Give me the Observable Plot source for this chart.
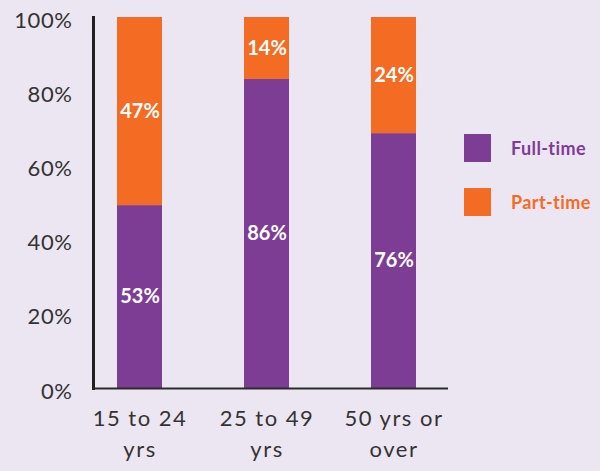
<!DOCTYPE html>
<html>
<head>
<meta charset="utf-8">
<script src="https://cdn.jsdelivr.net/npm/d3@7"></script>
<script src="https://cdn.jsdelivr.net/npm/@observablehq/plot@0.6"></script>
<style>
  html, body { margin: 0; padding: 0; background: #ece6f2; }
  #wrap { position: relative; width: 600px; height: 471px; font-family: Lato, "Open Sans", sans-serif; }
  .leg { position: absolute; left: 464px; display: flex; align-items: center; font-weight: 700; font-size: 18px; letter-spacing: 0.4px; }
  .sw { width: 27px; height: 28px; margin-right: 20px; }
  g[aria-label="x-axis tick label"] text { letter-spacing: 1.5px; }
  g[aria-label="y-axis tick label"] text { letter-spacing: 0.6px; }
</style>
</head>
<body>
<div id="wrap"></div>
<script>
const ages = ["15 to 24\nyrs", "25 to 49\nyrs", "50 yrs or\nover"];
const fullTime = [49.3, 83.3, 68.7];
const partTime = [50.7, 16.7, 31.3];
const fullLabels = ["53%", "86%", "76%"];
const partLabels = ["47%", "14%", "24%"];
const types = ["Full-time", "Part-time"];
const colors = ["#7e3d95", "#f46b24"];
const yTicks = [0, 20, 40, 60, 80, 100];

const rows = [];
ages.forEach((a, i) => {
  rows.push({age: a, type: types[0], value: fullTime[i], label: fullLabels[i]});
  rows.push({age: a, type: types[1], value: partTime[i], label: partLabels[i]});
});

const chart = Plot.plot({
  width: 600,
  height: 471,
  marginTop: 17,
  marginBottom: 83,
  marginLeft: 93,
  marginRight: 152,
  style: {background: "transparent", fontFamily: "Lato, 'Open Sans', sans-serif"},
  x: {domain: ages, range: [75, 457], paddingInner: 0.647, paddingOuter: 0.3235, axis: null},
  y: {domain: [0, 100], axis: null},
  color: {domain: types, range: colors},
  marks: [
    Plot.barY(rows, {x: "age", y: "value", fill: "type"}),
    Plot.text(rows, Plot.stackY({x: "age", y: "value", z: "type", text: "label", fill: "white", fontWeight: 700, fontSize: 20})),
    Plot.axisY({ticks: yTicks, tickFormat: d => d + "%", tickSize: 0, tickPadding: 21, fontSize: 22, fill: "#333", dy: 3, label: null}),
    Plot.axisX({tickSize: 0, tickPadding: 16, fontSize: 22, fill: "#333", lineHeight: 1.4, textAnchor: "middle", label: null}),
    Plot.ruleY([0], {stroke: "#2b2b2b", strokeWidth: 2}),
    Plot.frame({anchor: "left", stroke: "#231f20", strokeWidth: 3})
  ]
});
const wrap = document.getElementById("wrap");
wrap.appendChild(chart);
[["Full-time", colors[0], 134], ["Part-time", colors[1], 188]].forEach(([t, c, top]) => {
  const d = document.createElement("div");
  d.className = "leg";
  d.style.top = top + "px";
  d.style.color = c;
  d.innerHTML = `<div class="sw" style="background:${c}"></div><span>${t}</span>`;
  wrap.appendChild(d);
});
</script>
</body>
</html>
